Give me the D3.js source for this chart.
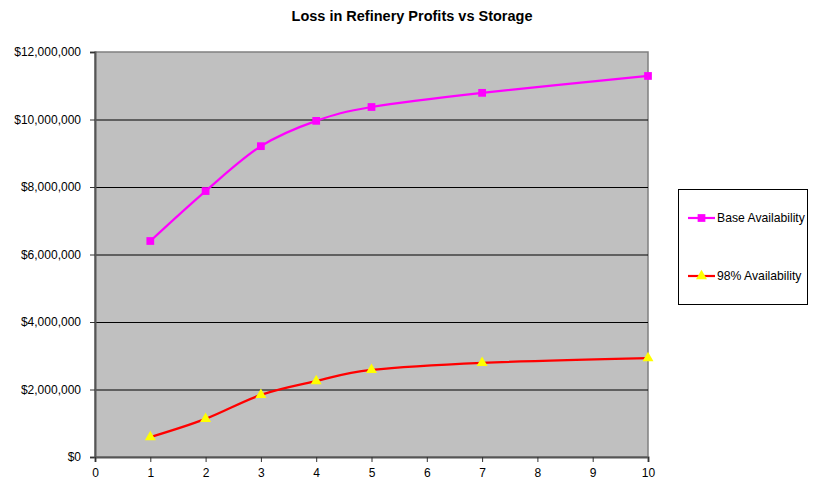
<!DOCTYPE html>
<html>
<head>
<meta charset="utf-8">
<script src="https://cdn.jsdelivr.net/npm/d3@7"></script>
<style>
  body { margin: 0; background: #fff; }
  text { font-family: "Liberation Sans", Arial, sans-serif; fill: #000; }
</style>
</head>
<body>
<svg id="chart" width="814" height="479"></svg>
<script>
// storage values (x) and losses in dollars
const storage = [1, 2, 3, 4, 5, 7, 10];
const baseAvail = [6400000, 7880000, 9210000, 9960000, 10370000, 10790000, 11290000];
const avail98 = [590000, 1130000, 1840000, 2250000, 2580000, 2790000, 2930000];
const xTicks = [0, 1, 2, 3, 4, 5, 6, 7, 8, 9, 10];
const yTicks = [0, 2000000, 4000000, 6000000, 8000000, 10000000, 12000000];
const seriesNames = ["Base Availability", "98% Availability"];

const margin = { top: 52, left: 95 };
const plotW = 553, plotH = 405;

const svg = d3.select("#chart");
const g = svg.append("g")
  .attr("transform", "translate(" + margin.left + "," + margin.top + ")");

const x = d3.scaleLinear().domain([0, 10]).range([0, plotW]);
const y = d3.scaleLinear().domain([0, 12000000]).range([plotH, 0]);

// plot background
g.append("rect")
  .attr("width", plotW).attr("height", plotH)
  .attr("fill", "#c0c0c0")
  .attr("stroke", "#808080").attr("stroke-width", 1.5);

// gridlines
g.selectAll(".grid")
  .data(yTicks.filter(d => d > 0 && d < 12000000))
  .join("line")
  .attr("x1", 0).attr("x2", plotW)
  .attr("y1", d => y(d) + 0.5).attr("y2", d => y(d) + 0.5)
  .attr("stroke", "#000").attr("stroke-width", 1);

const fmt = d => "$" + d3.format(",")(d);

const yAxis = g.append("g")
  .call(d3.axisLeft(y).tickValues(yTicks).tickFormat(fmt).tickSize(5).tickPadding(9));
const xAxis = g.append("g")
  .attr("transform", "translate(0," + plotH + ")")
  .call(d3.axisBottom(x).tickValues(xTicks).tickFormat(d3.format("d")).tickSize(5).tickPadding(6));

[yAxis, xAxis].forEach(ax => {
  ax.select(".domain").attr("stroke", "#555").attr("stroke-width", 2);
  ax.selectAll(".tick line").attr("stroke", "#333");
  ax.selectAll("text").attr("font-size", 12).attr("fill", "#000")
    .attr("font-family", "Liberation Sans, Arial, sans-serif");
});

const line = d3.line()
  .curve(d3.curveCatmullRom.alpha(0))
  .x((d, i) => x(storage[i]))
  .y(d => y(d));

g.append("path").datum(baseAvail)
  .attr("d", line).attr("fill", "none")
  .attr("stroke", "#ff00ff").attr("stroke-width", 2.2);
g.append("path").datum(avail98)
  .attr("d", line).attr("fill", "none")
  .attr("stroke", "#ff0000").attr("stroke-width", 2.2);

const sq = d3.symbol().type(d3.symbolSquare).size(60);
const tri = d3.symbol().type(d3.symbolTriangle).size(52);

g.selectAll(".sq").data(baseAvail).join("path")
  .attr("d", sq)
  .attr("transform", (d, i) => "translate(" + x(storage[i]) + "," + y(d) + ")")
  .attr("fill", "#ff00ff");
g.selectAll(".tri").data(avail98).join("path")
  .attr("d", tri)
  .attr("transform", (d, i) => "translate(" + x(storage[i]) + "," + y(d) + ")")
  .attr("fill", "#ffff00");

// title
svg.append("text")
  .attr("x", 412).attr("y", 21)
  .attr("text-anchor", "middle")
  .attr("font-size", 14.5).attr("font-weight", "bold")
  .text("Loss in Refinery Profits vs Storage");

// legend
const lg = svg.append("g").attr("transform", "translate(678,189)");
lg.append("rect")
  .attr("x", 0.5).attr("y", 0.5).attr("width", 129).attr("height", 115)
  .attr("fill", "#fff").attr("stroke", "#000");
const legendItems = [
  { name: seriesNames[0], color: "#ff00ff", sym: sq, fill: "#ff00ff", yy: 29 },
  { name: seriesNames[1], color: "#ff0000", sym: tri, fill: "#ffff00", yy: 87 }
];
legendItems.forEach(it => {
  lg.append("line").attr("x1", 10).attr("x2", 37).attr("y1", it.yy).attr("y2", it.yy)
    .attr("stroke", it.color).attr("stroke-width", 2.2);
  lg.append("path").attr("d", it.sym).attr("transform", "translate(23.5," + it.yy + ")")
    .attr("fill", it.fill);
  lg.append("text").attr("x", 39).attr("y", it.yy + 4)
    .attr("font-size", 12.2).text(it.name);
});
</script>
</body>
</html>
